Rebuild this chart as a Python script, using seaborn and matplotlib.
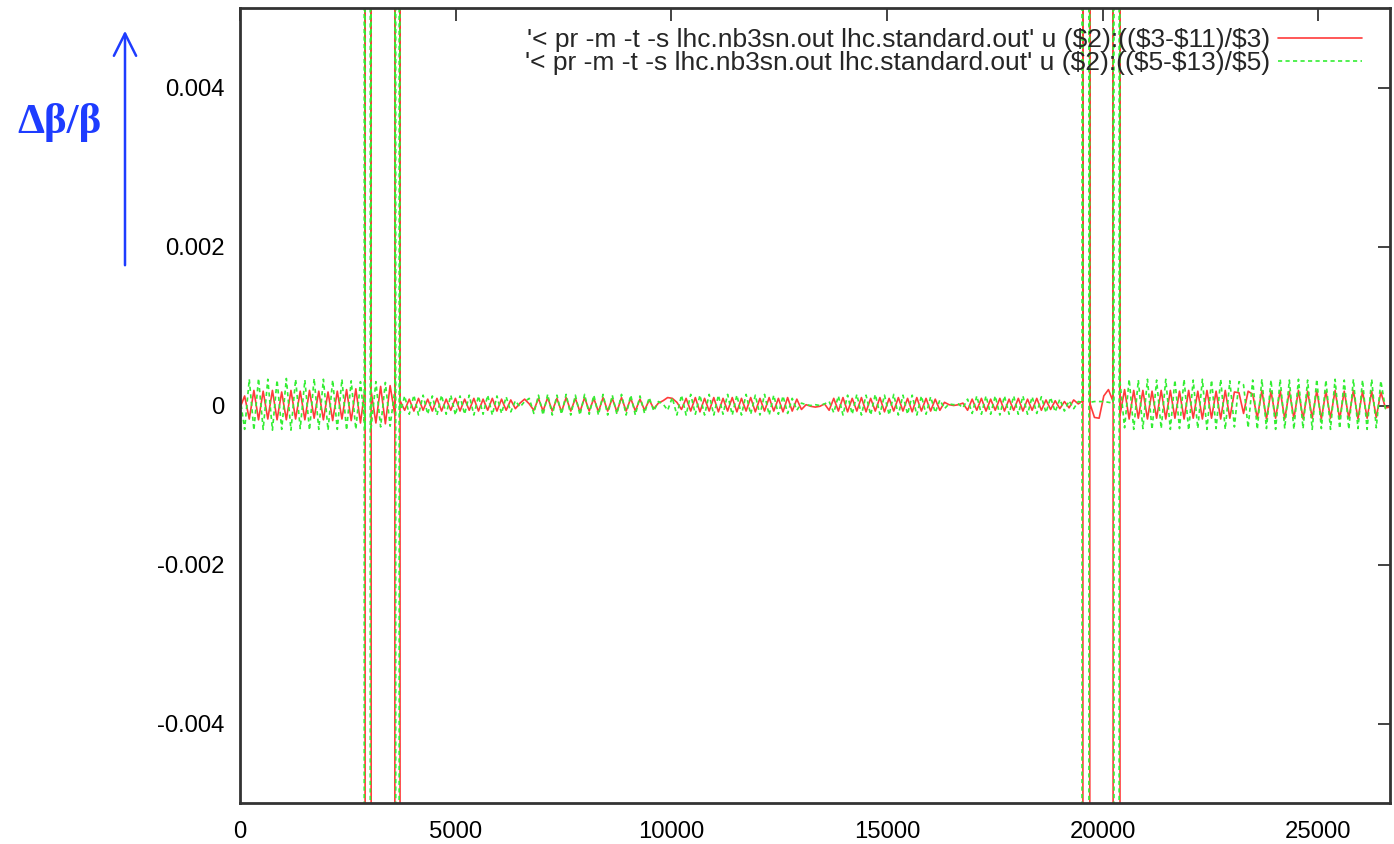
import numpy as np
import matplotlib
matplotlib.use("Agg")
import matplotlib.pyplot as plt
import seaborn as sns

# ---------------- data ----------------
# segments of the ring between the four Nb3Sn spike locations (m)
seg_start = [0, 3040, 3710, 19700, 20400]
seg_end = [2900, 3590, 19540, 20240, 26659]

# spike (off-scale) locations: each spike swings through the full range
red_spike_in = [2900, 3590, 19540, 20240]
red_spike_out = [3040, 3710, 19700, 20400]
green_spike_in = [2880, 3610, 19520, 20260]
green_spike_out = [3020, 3690, 19680, 20380]
spike_high = [0.05, 0.05, 0.05, 0.05]
spike_low = [-0.05, -0.05, -0.05, -0.05]

# red: ($3-$11)/$3   (beta_x beating)
red_arc1 = [-0.00003, 0.00012, -0.00017, 0.00019, -0.00018, 0.00018, -0.00017,
            0.00019, -0.00018, 0.00017, -0.00018, 0.00019, -0.00017, 0.00018,
            -0.00018, 0.00019, -0.00016, 0.00018, -0.00018, 0.00017, -0.00019,
            0.00018, -0.00017, 0.00020, -0.00019, 0.00021, -0.00022, 0.00022]
red_ir2 = [0.00018, -0.00022, 0.00024, -0.00023, 0.00025, -0.00012]
red_mid = [0.00006, -0.00006, 0.00008, -0.00007, 0.00009, -0.00006, 0.00008, -0.00007, 0.00009, -0.00007,
           0.00008, -0.00006, 0.00009, -0.00007, 0.00008, -0.00006, 0.00009, -0.00007, 0.00008, -0.00006,
           0.00009, -0.00007, 0.00008, -0.00006, 0.00007, -0.00004, 0.00003, 0.00008, 0.00002, -0.00006,
           0.00009, -0.00007, 0.00010, -0.00007, 0.00009, -0.00008, 0.00010, -0.00007, 0.00009, -0.00008,
           0.00010, -0.00007, 0.00009, -0.00008, 0.00010, -0.00007, 0.00009, -0.00008, 0.00010, -0.00007,
           0.00009, -0.00007, 0.00008, -0.00006, 0.00007, -0.00004, 0.00003, 0.00006, 0.00010, 0.00009,
           0.00004, -0.00005, 0.00009, -0.00007, 0.00010, -0.00008, 0.00009, -0.00007, 0.00010, -0.00008,
           0.00009, -0.00007, 0.00010, -0.00008, 0.00009, -0.00007, 0.00010, -0.00008, 0.00009, -0.00007,
           0.00010, -0.00007, 0.00009, -0.00008, 0.00010, -0.00007, 0.00008, -0.00005, 0.00001, -0.00001,
           -0.00002, -0.00001, 0.00002, -0.00006, 0.00009, -0.00007, 0.00010, -0.00008, 0.00009, -0.00007,
           0.00010, -0.00008, 0.00009, -0.00007, 0.00010, -0.00008, 0.00009, -0.00007, 0.00010, -0.00007,
           0.00009, -0.00008, 0.00010, -0.00007, 0.00009, -0.00007, 0.00008, -0.00006, 0.00004, 0.00001,
           0.00000, 0.00001, 0.00003, -0.00006, 0.00008, -0.00006, 0.00009, -0.00007, 0.00008, -0.00006,
           0.00009, -0.00007, 0.00008, -0.00006, 0.00009, -0.00007, 0.00008, -0.00006, 0.00009, -0.00006,
           0.00007, -0.00005, 0.00006, -0.00004, 0.00005, -0.00003, 0.00007, 0.00002, 0.00006]
red_ir7 = [0.00003, -0.00015, -0.00016, 0.00012, 0.00020, 0.00005]
red_arc8 = [-0.00012, 0.00020, -0.00017, 0.00019, -0.00016, 0.00019, -0.00017, 0.00018, -0.00016, 0.00019,
            -0.00017, 0.00019, -0.00016, 0.00018, -0.00017, 0.00019, -0.00016, 0.00018, -0.00017, 0.00019,
            -0.00016, 0.00018, -0.00017, 0.00019, -0.00016, 0.00017, 0.00016, -0.00010, 0.00018, 0.00014,
            -0.00016, 0.00019, -0.00017, 0.00018, -0.00016, 0.00019, -0.00017, 0.00018, -0.00016, 0.00019,
            -0.00017, 0.00018, -0.00016, 0.00019, -0.00017, 0.00018, -0.00016, 0.00019, -0.00017, 0.00018,
            -0.00016, 0.00019, -0.00017, 0.00018, -0.00016, 0.00018, -0.00015, 0.00017, -0.00003, -0.00002]

# green: ($5-$13)/$5   (beta_y beating)
green_arc1 = [0.00010, -0.00030, 0.00033, -0.00031, 0.00034, -0.00030, 0.00033,
              -0.00031, 0.00032, -0.00030, 0.00034, -0.00031, 0.00033, -0.00029,
              0.00032, -0.00031, 0.00034, -0.00030, 0.00033, -0.00031, 0.00032,
              -0.00030, 0.00033, -0.00031, 0.00031, -0.00030, 0.00030, -0.00029]
green_ir2 = [-0.00028, 0.00030, -0.00027, 0.00029, -0.00026, 0.00020]
green_mid = [-0.00010, 0.00012, -0.00011, 0.00013, -0.00012, 0.00013, -0.00011, 0.00012, -0.00012, 0.00013,
             -0.00011, 0.00013, -0.00012, 0.00012, -0.00011, 0.00013, -0.00012, 0.00012, -0.00011, 0.00013,
             -0.00012, 0.00012, -0.00010, 0.00011, -0.00008, 0.00006, -0.00002, 0.00005, 0.00009, -0.00010,
             0.00013, -0.00012, 0.00014, -0.00012, 0.00013, -0.00011, 0.00014, -0.00012, 0.00013, -0.00012,
             0.00014, -0.00011, 0.00013, -0.00012, 0.00014, -0.00012, 0.00013, -0.00011, 0.00014, -0.00012,
             0.00013, -0.00012, 0.00012, -0.00010, 0.00010, -0.00007, 0.00005, 0.00002, -0.00006, 0.00010,
             -0.00012, 0.00013, -0.00012, 0.00014, -0.00011, 0.00013, -0.00012, 0.00014, -0.00012, 0.00013,
             -0.00011, 0.00014, -0.00012, 0.00013, -0.00012, 0.00014, -0.00011, 0.00013, -0.00012, 0.00014,
             -0.00012, 0.00013, -0.00011, 0.00012, -0.00010, 0.00009, -0.00006, 0.00003, 0.00001, 0.00000,
             0.00001, 0.00000, 0.00002, 0.00005, -0.00009, 0.00012, -0.00012, 0.00013, -0.00011, 0.00014,
             -0.00012, 0.00013, -0.00012, 0.00014, -0.00011, 0.00013, -0.00012, 0.00014, -0.00012, 0.00013,
             -0.00011, 0.00013, -0.00012, 0.00012, -0.00011, 0.00011, -0.00009, 0.00007, -0.00004, 0.00002,
             0.00001, 0.00002, -0.00003, 0.00008, -0.00010, 0.00012, -0.00011, 0.00012, -0.00011, 0.00012,
             -0.00012, 0.00012, -0.00011, 0.00012, -0.00011, 0.00012, -0.00011, 0.00011, -0.00010, 0.00011,
             -0.00009, 0.00010, -0.00008, 0.00008, -0.00007, 0.00006, -0.00004, 0.00005, 0.00004]
green_ir7 = [0.00004, 0.00005, 0.00005, 0.00005, 0.00004, 0.00003]
green_arc8 = [0.00030, -0.00028, 0.00033, -0.00030, 0.00032, -0.00029, 0.00033, -0.00030, 0.00032, -0.00029,
              0.00033, -0.00030, 0.00032, -0.00029, 0.00033, -0.00031, 0.00032, -0.00029, 0.00033, -0.00030,
              0.00032, -0.00029, 0.00033, -0.00030, 0.00031, -0.00027, 0.00030, 0.00026, -0.00028, 0.00032,
              -0.00030, 0.00033, -0.00029, 0.00032, -0.00030, 0.00033, -0.00029, 0.00032, -0.00030, 0.00033,
              -0.00029, 0.00032, -0.00030, 0.00033, -0.00029, 0.00032, -0.00030, 0.00033, -0.00029, 0.00032,
              -0.00030, 0.00033, -0.00029, 0.00032, -0.00030, 0.00033, -0.00028, 0.00031, -0.00004, -0.00002]

red_label = "'< pr -m -t -s lhc.nb3sn.out lhc.standard.out' u (\\$2):((\\$3-\\$11)/\\$3)"
green_label = "'< pr -m -t -s lhc.nb3sn.out lhc.standard.out' u (\\$2):((\\$5-\\$13)/\\$5)"

x_ticks = [0, 5000, 10000, 15000, 20000, 25000]
y_ticks = [-0.004, -0.002, 0.0, 0.002, 0.004]
y_tick_labels = ["-0.004", "-0.002", "0", "0.002", "0.004"]


def build(segments, sp_in, sp_out):
    xs, ys = [], []
    for k, vals in enumerate(segments):
        xs.extend(np.linspace(seg_start[k], seg_end[k], len(vals)))
        ys.extend(vals)
        if k < len(sp_in):
            xs.extend([sp_in[k], sp_in[k], sp_out[k], sp_out[k]])
            ys.extend([spike_high[k], spike_low[k], spike_low[k], spike_high[k]])
    return xs, ys


red_x, red_y = build([red_arc1, red_ir2, red_mid, red_ir7, red_arc8], red_spike_in, red_spike_out)
green_x, green_y = build([green_arc1, green_ir2, green_mid, green_ir7, green_arc8], green_spike_in, green_spike_out)

# ---------------- plot ----------------
sns.set_style("white")
plt.rcParams['font.family'] = ['Liberation Sans', 'DejaVu Sans']

fig = plt.figure(figsize=(13.94, 8.44), dpi=100)
ax = fig.add_axes([240 / 1394, 1 - 803 / 844, 1150 / 1394, 795 / 844])

sns.lineplot(x=red_x, y=red_y, sort=False, estimator=None, color='#ff3b3b', lw=1.2, ax=ax)
sns.lineplot(x=green_x, y=green_y, sort=False, estimator=None, color='#33ee33', lw=1.2, ax=ax)
lines = ax.get_lines()
lines[1].set_dashes((2.5, 2))

ax.set_xlim(0, 26659)
ax.set_ylim(-0.005, 0.005)
ax.set_xticks(x_ticks)
ax.set_xticklabels([str(t) for t in x_ticks])
ax.set_yticks(y_ticks)
ax.set_yticklabels(y_tick_labels)
ax.tick_params(direction='in', length=9, width=1.2, top=True, right=True,
               labelsize=17.2, colors='#222222', labelcolor='black')
ax.tick_params(axis='x', pad=13)
ax.tick_params(axis='y', pad=11)
for s in ax.spines.values():
    s.set_color('#333333')
    s.set_linewidth(2)

leg = ax.legend(lines, [red_label, green_label], loc='upper right', frameon=False,
                markerfirst=False, fontsize=19, handlelength=3.2, handletextpad=0.3,
                labelspacing=-0.04, borderaxespad=0.0, borderpad=0.0,
                bbox_to_anchor=(1 - 28 / 1150, 1 - 20 / 795))

blue = '#1e3cff'
ax.annotate('', xy=(125 / 1394, 1 - 28 / 844), xytext=(125 / 1394, 1 - 268 / 844),
            xycoords='figure fraction', textcoords='figure fraction',
            arrowprops=dict(arrowstyle='->', color=blue, lw=1.8, mutation_scale=40),
            annotation_clip=False)
fig.text(59 / 1394, 1 - 122 / 844, 'Δβ/β', ha='center', va='center',
         family=['Liberation Serif', 'DejaVu Serif'], weight='bold', size=31, color=blue)

fig.savefig('out.png', dpi=100)
